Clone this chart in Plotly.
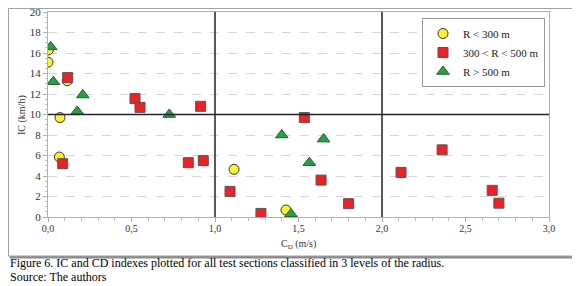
import plotly.graph_objects as go

# R < 300 m
r1_x = [0.002, 0.0, 0.115, 0.072, 0.068, 1.114, 1.425]
r1_y = [16.3, 15.1, 13.3, 9.7, 5.85, 4.65, 0.68]
# 300 < R < 500 m
r2_x = [0.118, 0.521, 0.551, 0.914, 1.535, 0.088, 0.84, 0.93, 1.09, 1.275, 1.635, 1.80, 2.114, 2.36, 2.66, 2.70]
r2_y = [13.6, 11.55, 10.7, 10.8, 9.7, 5.2, 5.3, 5.5, 2.5, 0.35, 3.6, 1.3, 4.35, 6.55, 2.6, 1.35]
# R > 500 m
r3_x = [0.016, 0.032, 0.208, 0.175, 0.726, 1.40, 1.65, 1.565, 1.455]
r3_y = [16.6, 13.2, 11.9, 10.3, 10.0, 8.0, 7.6, 5.3, 0.3]

names = ["R < 300 m", "300 < R < 500 m", "R > 500 m"]
x_ticks = [0.0, 0.5, 1.0, 1.5, 2.0, 2.5, 3.0]
y_ticks = [0, 2, 4, 6, 8, 10, 12, 14, 16, 18, 20]
caption = "Figure 6. IC and CD indexes plotted for all test sections classified in 3 levels of the radius."
source = "Source: The authors"

SERIF = "Liberation Serif, Times New Roman, serif"

fig = go.Figure()
fig.add_trace(go.Scatter(x=r1_x, y=r1_y, mode="markers", name=names[0],
                         marker=dict(symbol="circle", size=10, color="#FFF22E",
                                     line=dict(color="#333333", width=1))))
fig.add_trace(go.Scatter(x=r2_x, y=r2_y, mode="markers", name=names[1],
                         marker=dict(symbol="square", size=10, color="#EE2024",
                                     line=dict(color="#555555", width=1))))
fig.add_trace(go.Scatter(x=r3_x, y=r3_y, mode="markers", name=names[2],
                         marker=dict(symbol="triangle-up", size=11, color="#25A045",
                                     line=dict(color="#1E5E2A", width=1))))

# The page body has an 8px margin: convert page pixels to figure coordinates.
OFF = 8
W, H = 580 - OFF, 286 - OFF
# plot area on the page: x 48..549, y 12..217
L, T = 48 - OFF, 12 - OFF
R = W - (549 - OFF)
B = H - (217 - OFF)
PW, PH = W - L - R, H - T - B
def px(X):
    return (X - OFF - L) / PW
def py(Y):
    return (H - B - (Y - OFF)) / PH

shapes = [
    # frame shadow
    dict(type="rect", xref="paper", yref="paper", x0=px(10), x1=px(579), y0=py(258), y1=py(10),
         line=dict(color="#8a8a8a", width=1), fillcolor="#8a8a8a", layer="below"),
    dict(type="rect", xref="paper", yref="paper", x0=px(8.5), x1=px(577), y0=py(256), y1=py(8.5),
         line=dict(color="#a0a0a0", width=1), fillcolor="white", layer="below"),
    # reference lines
    dict(type="line", xref="x", yref="y", x0=1, x1=1, y0=0, y1=20, line=dict(color="#222222", width=1.5)),
    dict(type="line", xref="x", yref="y", x0=2, x1=2, y0=0, y1=20, line=dict(color="#222222", width=1.5)),
    dict(type="line", xref="x", yref="y", x0=0, x1=3, y0=10, y1=10, line=dict(color="#222222", width=1.5)),
]

fig.update_layout(
    width=W, height=H, autosize=False,
    margin=dict(l=L, r=R, t=T, b=B, pad=0, autoexpand=False),
    paper_bgcolor="white", plot_bgcolor="white",
    separators=", ",
    font=dict(family=SERIF, size=10, color="#333333"),
    showlegend=True,
    legend=dict(x=px(422), y=py(18), xanchor="left", yanchor="top",
                bgcolor="white", bordercolor="#9a9a9a", borderwidth=1,
                font=dict(family=SERIF, size=11, color="#222222"),
                itemwidth=30, tracegroupgap=0),
    xaxis=dict(range=[0, 3], tickvals=x_ticks, tickformat=".1f", showgrid=False, zeroline=False,
               automargin=False, ticklabeloverflow="allow", ticklabelstandoff=-2,
               showline=True, linecolor="#b0b0b0", linewidth=1, mirror=True,
               ticks="outside", ticklen=4, tickcolor="#b0b0b0",
               minor=dict(dtick=0.1, ticks="outside", ticklen=3, tickcolor="#c0c0c0"),
               tickfont=dict(family=SERIF, size=10, color="#333333")),
    yaxis=dict(range=[0, 20], tickvals=y_ticks, showgrid=True, gridcolor="#d5d5dd", griddash="dash",
               gridwidth=1, zeroline=False, automargin=False, ticklabeloverflow="allow",
               showline=True, linecolor="#b0b0b0", linewidth=1, mirror=True,
               ticks="outside", ticklen=4, tickcolor="#b0b0b0",
               minor=dict(dtick=0.5, ticks="outside", ticklen=2, tickcolor="#c0c0c0", showgrid=False),
               tickfont=dict(family=SERIF, size=11, color="#333333")),
    shapes=shapes,
    annotations=[
        dict(xref="paper", yref="paper", x=px(298), y=py(244), text="C<sub>D</sub> (m/s)",
             xanchor="center", yanchor="middle",
             showarrow=False, font=dict(family=SERIF, size=10, color="#333333")),
        dict(xref="paper", yref="paper", x=px(22), y=py(115), text="IC (km/h)", textangle=-90,
             xanchor="center", yanchor="middle",
             showarrow=False, font=dict(family=SERIF, size=10, color="#333333")),
        dict(xref="paper", yref="paper", x=px(8), y=py(263), text=caption,
             xanchor="left", yanchor="middle",
             showarrow=False, font=dict(family=SERIF, size=12, color="#000000")),
        dict(xref="paper", yref="paper", x=px(8), y=py(277), text=source,
             xanchor="left", yanchor="middle",
             showarrow=False, font=dict(family=SERIF, size=12, color="#000000")),
    ],
)

fig.write_html("out.html")
